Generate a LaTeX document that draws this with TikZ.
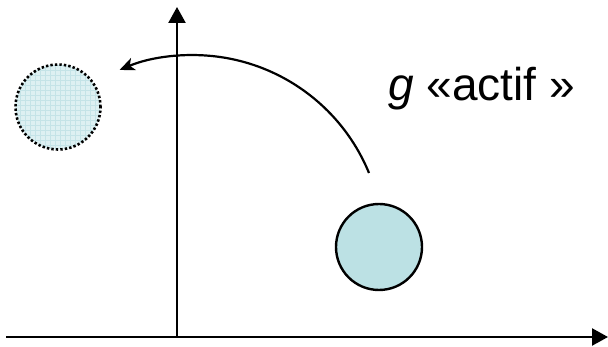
\documentclass[tikz,border=0pt]{standalone}
\usepackage{fontspec}
\setmainfont{Liberation Sans}
\usetikzlibrary{arrows.meta}
\definecolor{solidfill}{HTML}{BCE1E4}
\definecolor{ghostfill}{HTML}{DDF0F2}
\definecolor{ghostgrid}{HTML}{C4E3E7}
\tikzset{
  axis/.style={line width=2.4pt,-{Triangle[length=16pt,width=17pt]}},
  ball/.style={circle,draw=black,line width=2.4pt,fill=solidfill,minimum size=86pt,inner sep=0pt},
  ghost/.style={circle,draw=black,line width=2.6pt,dash pattern=on 2.4pt off 2.1pt,minimum size=85pt,inner sep=0pt},
  motion/.style={line width=2.2pt,-{Stealth[length=15pt,width=13pt,inset=4pt]}},
}
\begin{document}
\begin{tikzpicture}[x=1pt,y=-1pt]
\useasboundingbox (0,0) rectangle (608,347);
\coordinate (xo) at (6,337);
\coordinate (xe) at (608,337);
\coordinate (yo) at (177,338);
\coordinate (ye) at (177,7);
\draw[axis] (xo) -- (xe);
\draw[axis] (yo) -- (ye);
% ghost circle with faint grid
\begin{scope}
\clip (58,107) circle[radius=42.5pt];
\fill[ghostfill] (10,60) rectangle (110,155);
\foreach \i in {0,...,20} {
  \draw[ghostgrid,line width=0.6pt] (10+5*\i,60) -- (10+5*\i,155);
  \draw[ghostgrid,line width=0.6pt] (10,60+5*\i) -- (110,60+5*\i);
}
\end{scope}
\node[ghost] (ghost) at (58,107) {};
\node[ball] (ball) at (379,247) {};
\coordinate (arcstart) at (369,173);
\draw[motion] (arcstart) arc[start angle=22.3,end angle=112.8,radius=190pt];
\node[anchor=base west,inner sep=0pt,font=\fontsize{46}{50}\selectfont] (lbl) at (388,101) {\textit{g} «actif »};
\end{tikzpicture}
\end{document}
